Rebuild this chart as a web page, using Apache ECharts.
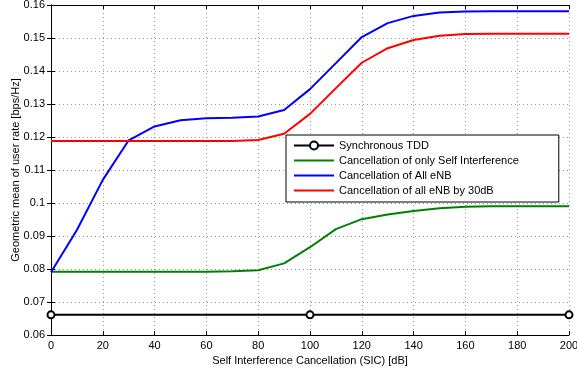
<!DOCTYPE html>
<html>
<head>
<meta charset="utf-8">
<script src="https://cdn.jsdelivr.net/npm/echarts@6/dist/echarts.min.js"></script>
<style>
  html, body { margin: 0; padding: 0; background: #fff; }
  #main { width: 577px; height: 371px; }
</style>
</head>
<body>
<div id="main"></div>
<script>
// x values (SIC in dB)
const sic = [0, 10, 20, 30, 40, 50, 60, 70, 80, 90, 100, 110, 120, 130, 140, 150, 160, 170, 180, 190, 200];
const tddX = [0, 100, 200];
const tddRate = [0.0661, 0.0661, 0.0661];
const onlySelf = [0.0792, 0.0792, 0.0792, 0.0792, 0.0792, 0.0792, 0.0792, 0.0793, 0.0796, 0.0817, 0.0866, 0.0921, 0.0951, 0.0965, 0.0976, 0.0984, 0.0989, 0.0990, 0.0990, 0.0990, 0.0990];
const allEnb = [0.0790, 0.0918, 0.1070, 0.1190, 0.1232, 0.1251, 0.1257, 0.1258, 0.1262, 0.1282, 0.1345, 0.1424, 0.1503, 0.1545, 0.1567, 0.1577, 0.1580, 0.1581, 0.1581, 0.1581, 0.1581];
const allEnb30 = [0.1188, 0.1188, 0.1188, 0.1188, 0.1188, 0.1188, 0.1188, 0.1188, 0.1191, 0.1210, 0.1270, 0.1348, 0.1425, 0.1469, 0.1494, 0.1507, 0.1512, 0.1513, 0.1513, 0.1513, 0.1513];

const names = [
  'Synchronous TDD',
  'Cancellation of only Self Interference',
  'Cancellation of All eNB',
  'Cancellation of all eNB by 30dB'
];

const pairs = (xs, ys) => xs.map((x, i) => [x, ys[i]]);

const chart = echarts.init(document.getElementById('main'), null, { renderer: 'canvas' });
const font = 'Liberation Sans, Arial, Helvetica, sans-serif';
const gridStyle = { show: true, lineStyle: { color: '#999', type: [1, 3], width: 1 } };
const lineIcon = 'path://M0,0 L40,0 L40,2 L0,2 Z';

const option = {
  animation: false,
  textStyle: { fontFamily: font },
  grid: { left: 51, right: 8, top: 5, bottom: 36, outerBoundsMode: 'none', containLabel: false },
  legend: {
    orient: 'vertical',
    left: 286,
    top: 135,
    data: [
      { name: names[0] },
      { name: names[1], icon: lineIcon },
      { name: names[2], icon: lineIcon },
      { name: names[3], icon: lineIcon }
    ],
    backgroundColor: '#fff',
    borderColor: '#000',
    borderWidth: 1,
    borderRadius: 0,
    padding: [5, 40, 6, 7],
    itemWidth: 40,
    itemHeight: 10,
    itemGap: 4,
    textStyle: { fontSize: 11, color: '#000', fontFamily: font }
  },
  xAxis: [{
    type: 'value', min: 0, max: 200, interval: 20,
    name: 'Self Interference Cancellation (SIC) [dB]',
    nameLocation: 'middle', nameGap: 19,
    nameTextStyle: { fontSize: 11, color: '#000' },
    axisLine: { show: true, lineStyle: { color: '#000', width: 1 } },
    axisTick: { show: true, inside: true, length: 4, lineStyle: { color: '#000' } },
    axisLabel: { fontSize: 11, color: '#000', margin: 5 },
    splitLine: gridStyle
  }, {
    type: 'value', min: 0, max: 200, interval: 20, position: 'top',
    axisLine: { show: true, lineStyle: { color: '#000', width: 1 } },
    axisTick: { show: true, inside: true, length: 4, lineStyle: { color: '#000' } },
    axisLabel: { show: false }, splitLine: { show: false }
  }],
  yAxis: [{
    type: 'value', min: 0.06, max: 0.16, interval: 0.01,
    name: 'Geometric mean of user rate [bps/Hz]',
    nameLocation: 'middle', nameGap: 30, nameRotate: 90, nameMoveOverlap: false,
    nameTextStyle: { fontSize: 11, color: '#000' },
    axisLine: { show: true, lineStyle: { color: '#000', width: 1 } },
    axisTick: { show: true, inside: true, length: 4, lineStyle: { color: '#000' } },
    axisLabel: { fontSize: 11, color: '#000', margin: 6, formatter: v => +v.toFixed(2) + '' },
    splitLine: gridStyle
  }, {
    type: 'value', min: 0.06, max: 0.16, interval: 0.01, position: 'right',
    axisLine: { show: true, lineStyle: { color: '#000', width: 1 } },
    axisTick: { show: true, inside: true, length: 4, lineStyle: { color: '#000' } },
    axisLabel: { show: false }, splitLine: { show: false }
  }],
  series: [
    {
      name: names[0], type: 'line', data: pairs(tddX, tddRate),
      symbol: 'circle', symbolSize: 7,
      itemStyle: { color: '#fff', borderColor: '#000', borderWidth: 2 },
      lineStyle: { color: '#000', width: 2 }, z: 5
    },
    {
      name: names[1], type: 'line', data: pairs(sic, onlySelf), showSymbol: false, symbol: 'none',
      itemStyle: { color: '#008000' }, lineStyle: { color: '#008000', width: 2 }
    },
    {
      name: names[2], type: 'line', data: pairs(sic, allEnb), showSymbol: false, symbol: 'none',
      itemStyle: { color: '#0000ff' }, lineStyle: { color: '#0000ff', width: 2 }
    },
    {
      name: names[3], type: 'line', data: pairs(sic, allEnb30), showSymbol: false, symbol: 'none',
      itemStyle: { color: '#ff0000' }, lineStyle: { color: '#ff0000', width: 2 }
    }
  ]
};

chart.setOption(option);
</script>
</body>
</html>
